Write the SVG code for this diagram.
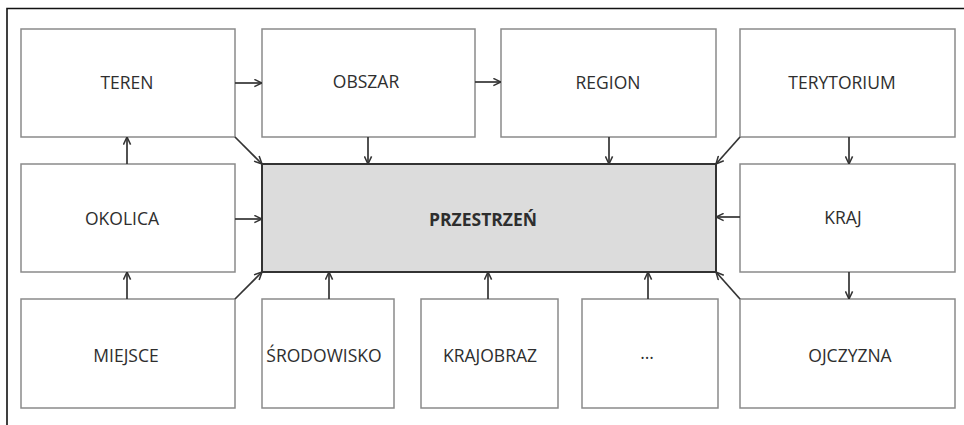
<svg xmlns="http://www.w3.org/2000/svg" width="964" height="425" viewBox="0 0 964 425">
<style>
.box{fill:#fff;stroke:#8a8a8a;stroke-width:1.5}
.main{fill:#dcdcdc;stroke:#333;stroke-width:2}
.t{font-family:"Open Sans","Liberation Sans",sans-serif;font-size:17.5px;fill:#2e2e2e;text-anchor:middle}
.b{font-weight:bold}
.c{fill:none;stroke:#333;stroke-width:1.7;marker-end:url(#ah)}
</style>
<defs>
<marker id="ah" viewBox="0 0 10 10" refX="9.5" refY="5" markerWidth="9" markerHeight="9" markerUnits="userSpaceOnUse" orient="auto">
<path d="M1,1 L9.5,5 L1,9" fill="none" stroke="#333" stroke-width="1.7"/>
</marker>
</defs>
<rect width="964" height="425" fill="#fff"/>
<path d="M7,425 V8.5 H964" fill="none" stroke="#111" stroke-width="1.6"/>
<g id="teren"><rect class="box" x="21" y="29" width="214" height="108"/><text class="t" x="127" y="89">TEREN</text></g>
<g id="obszar"><rect class="box" x="262" y="29" width="213" height="108"/><text class="t" x="366" y="88">OBSZAR</text></g>
<g id="region"><rect class="box" x="501" y="29" width="215" height="108"/><text class="t" x="608" y="89">REGION</text></g>
<g id="terytorium"><rect class="box" x="740" y="29" width="215" height="108"/><text class="t" x="842" y="89">TERYTORIUM</text></g>
<g id="okolica"><rect class="box" x="21" y="164" width="214" height="108"/><text class="t" x="122" y="225">OKOLICA</text></g>
<g id="przestrzen"><rect class="main" x="262" y="164" width="454" height="108"/><text class="t b" x="483" y="226">PRZESTRZEŃ</text></g>
<g id="kraj"><rect class="box" x="740" y="164" width="215" height="108"/><text class="t" x="843" y="224">KRAJ</text></g>
<g id="miejsce"><rect class="box" x="21" y="299" width="214" height="109"/><text class="t" x="126" y="362">MIEJSCE</text></g>
<g id="srodowisko"><rect class="box" x="262" y="299" width="132" height="109"/><text class="t" x="324" y="362">ŚRODOWISKO</text></g>
<g id="krajobraz"><rect class="box" x="421" y="299" width="137" height="109"/><text class="t" x="490" y="362">KRAJOBRAZ</text></g>
<g id="dots"><rect class="box" x="582" y="299" width="136" height="109"/><text class="t" x="647" y="359">…</text></g>
<g id="ojczyzna"><rect class="box" x="740" y="299" width="215" height="109"/><text class="t" x="850" y="362">OJCZYZNA</text></g>
<g id="connectors">
<line class="c" x1="235" y1="83" x2="262" y2="83"/>
<line class="c" x1="475" y1="82" x2="501" y2="82"/>
<line class="c" x1="368" y1="137" x2="368" y2="164"/>
<line class="c" x1="609" y1="137" x2="609" y2="164"/>
<line class="c" x1="849" y1="137" x2="849" y2="164"/>
<line class="c" x1="740" y1="137" x2="716" y2="164"/>
<line class="c" x1="235" y1="137" x2="262" y2="164"/>
<line class="c" x1="127" y1="164" x2="127" y2="137"/>
<line class="c" x1="235" y1="219" x2="262" y2="219"/>
<line class="c" x1="127" y1="299" x2="127" y2="272"/>
<line class="c" x1="235" y1="299" x2="262" y2="272"/>
<line class="c" x1="329" y1="299" x2="329" y2="272"/>
<line class="c" x1="488" y1="299" x2="488" y2="272"/>
<line class="c" x1="648" y1="299" x2="648" y2="272"/>
<line class="c" x1="740" y1="217" x2="716" y2="217"/>
<line class="c" x1="849" y1="272" x2="849" y2="299"/>
<line class="c" x1="740" y1="299" x2="716" y2="272"/>
</g>
</svg>
